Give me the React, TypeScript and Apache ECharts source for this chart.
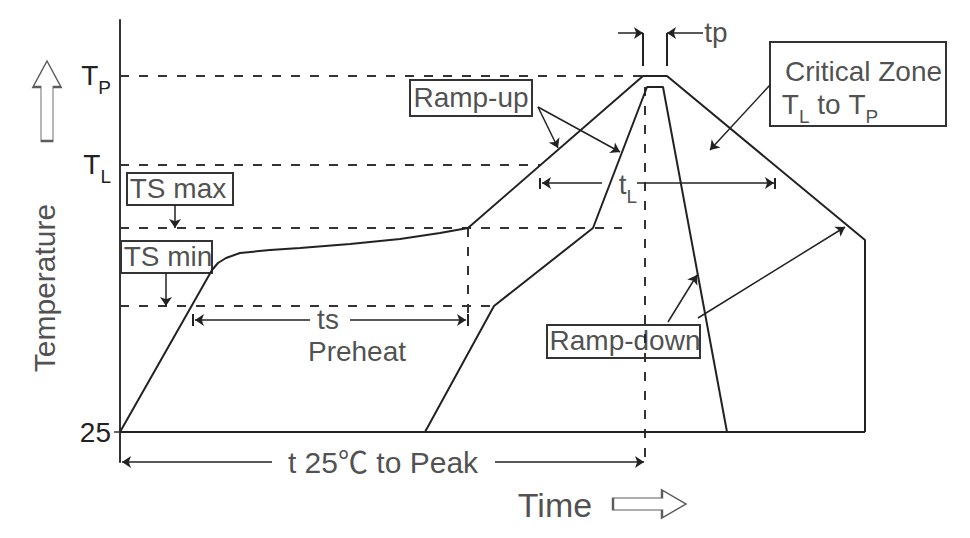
import React, { useEffect, useRef } from 'react';
import * as echarts from 'echarts';

// ---- data (diagram units: x = time, y = temperature, schematic) ----
const outerProfile: number[][] = [
  [0, 25], [46, 106], [49, 109.5], [53, 112], [60, 114.5], [75, 116], [90, 117],
  [115, 119], [140, 121.5], [160, 124.5], [174, 127], [261.5, 203], [273.5, 203],
  [372.5, 121], [372.5, 25],
];
const innerProfile: number[][] = [
  [152.5, 25], [187, 88], [236.5, 127], [263.5, 197.5], [271.5, 197.5], [303.5, 25],
];
const baseline: number[][] = [[0, 25], [372.5, 25]];

const dashedLines: number[][][] = [
  [[0, 203], [261.5, 203]],      // Tp
  [[0, 158.5], [210, 158.5]],    // TL
  [[0, 127], [251, 127]],        // TS max
  [[0, 88], [187, 88]],          // TS min
  [[174, 127], [174, 79.5]],     // end of preheat
  [[262.5, 197.5], [262.5, 10]], // peak time
];

const arrows: number[][][] = [
  [[27.5, 138.5], [27.5, 127]],
  [[23, 104.5], [23, 88]],
  [[209, 187.5], [219, 167]],
  [[209, 187.5], [250, 165]],
  [[325, 198.5], [295, 166]],
  [[274, 80], [288.5, 103.5]],
  [[289, 82], [362.5, 127.5]],
  [[249, 224.5], [261.5, 224.5]],
  [[291.5, 224.5], [273.5, 224.5]],
  [[241, 149.5], [211, 149.5]],
  [[258.5, 149.5], [327, 149.5]],
  [[95, 81], [37.5, 81]],
  [[115, 81], [173, 81]],
  [[76, 10], [1, 10]],
  [[187.5, 10], [262, 10]],
];

const plainLines: number[][][] = [
  [[261.5, 224.5], [261.5, 208]],
  [[273.5, 224.5], [273.5, 208]],
  [[210, 152], [210, 146.5]],
  [[327.5, 152], [327.5, 146.5]],
  [[36.5, 84], [36.5, 78]],
  [[174, 84], [174, 78]],
];

const boxes: number[][][] = [
  [[3.5, 154.5], [56.5, 138.5]],   // TS max
  [[0.5, 120.5], [46, 104.5]],     // TS min
  [[145, 201], [206, 183]],        // Ramp-up
  [[325, 220], [413, 178]],        // Critical zone
  [[213.5, 78.5], [290, 62]],      // Ramp-down
];

const yTickValues = [25, 158.5, 203];
const yTickMain = ['25', 'T', 'T'];
const yTickSub = ['', 'L', 'P'];

const labelTexts = [
  '{a|TS max}', '{a|TS min}', '{a|Ramp-up}', '{a|Critical Zone}',
  '{t|T}{s|L}{a| to }{t|T}{s|P}', '{a|Ramp-down}', '{a|ts}', '{a|Preheat}',
  '{t|t}{s|L}', '{a|tp}', '{w|t 25℃ to Peak}', '{big|Time}', '{v|Temperature}',
];
const labelX = [29, 24, 175.5, 371.75, 355, 252.5, 104, 118.5, 254, 298, 131.5, 217.5, -38];
const labelY = [146.5, 112.5, 192, 205, 188.5, 70.5, 81, 65, 148.5, 224.5, 10, -11.5, 97];
const labelRotate = [0, 0, 0, 0, 0, 0, 0, 0, 0, 0, 0, 0, 90];

const hollowArrowPos: number[][] = [[-36.5, 190.5], [264.75, -11]];

const FONT = '"Liberation Sans", "Noto Sans CJK SC", Arial, Helvetica, sans-serif';
const INK = '#222';

const rich = {
  a: { fontSize: 28, lineHeight: 30, fontFamily: FONT, color: INK, verticalAlign: 'top' },
  w: { fontSize: 30, lineHeight: 32, fontFamily: FONT, color: INK },
  v: { fontSize: 30, lineHeight: 32, fontFamily: FONT, color: INK },
  big: { fontSize: 34, lineHeight: 36, fontFamily: FONT, color: INK },
  n: { fontSize: 28, lineHeight: 30, fontFamily: FONT, color: INK },
  t: { fontSize: 28, lineHeight: 30, fontFamily: FONT, color: INK, verticalAlign: 'top' },
  s: { fontSize: 19, lineHeight: 19, padding: [17, 0, 0, 0], fontFamily: FONT, color: INK, verticalAlign: 'top' },
};

export default function App() {
  const ref = useRef<HTMLDivElement>(null);
  useEffect(() => {
    const chart = echarts.init(ref.current!, null, { renderer: 'svg' });
    const lineStyleBase = { color: INK, width: 2 };
    const series: any[] = [];
    series.push({
      type: 'line', data: outerProfile, symbol: 'none', silent: true, clip: false,
      lineStyle: lineStyleBase, z: 3,
      markArea: {
        silent: true,
        label: { show: false },
        itemStyle: { color: 'rgba(0,0,0,0)', borderColor: '#333', borderWidth: 2 },
        data: boxes.map((b) => [{ coord: b[0] }, { coord: b[1] }]),
      },
    });
    series.push({
      type: 'line', data: innerProfile, symbol: 'none', silent: true, clip: false,
      lineStyle: lineStyleBase, z: 3,
      markLine: {
        silent: true, symbol: ['none', 'none'], label: { show: false },
        lineStyle: { color: INK, width: 2, type: 'solid' },
        data: plainLines.map((l) => [{ coord: l[0] }, { coord: l[1] }]),
      },
    });
    series.push({
      type: 'line', data: baseline, symbol: 'none', silent: true, clip: false,
      lineStyle: lineStyleBase, z: 3,
      markLine: {
        silent: true, symbol: ['none', 'arrow'], symbolSize: 9, label: { show: false },
        lineStyle: { color: INK, width: 1.5, type: 'solid' },
        data: arrows.map((l) => [{ coord: l[0] }, { coord: l[1] }]),
      },
    });
    dashedLines.forEach((d) => {
      series.push({
        type: 'line', data: d, symbol: 'none', silent: true, clip: false,
        lineStyle: { color: '#333', width: 2, type: [9, 10] }, z: 2,
      });
    });
    series.push({
      type: 'scatter', silent: true, clip: false, symbolSize: 1,
      itemStyle: { color: 'rgba(0,0,0,0)' },
      label: { show: true, position: 'inside', color: INK, fontFamily: FONT, rich },
      data: labelTexts.map((t, i) => ({
        value: [labelX[i], labelY[i]],
        label: { formatter: t, rotate: labelRotate[i] },
      })),
      z: 6,
    });
    series.push({
      type: 'scatter', silent: true, clip: false,
      itemStyle: { color: '#fff', borderColor: '#333', borderWidth: 1.5 },
      data: [
        { value: hollowArrowPos[0], symbol: 'path://M14,0 L28,26 L20,26 L20,80 L8,80 L8,26 L0,26 Z', symbolSize: [28, 80] },
        { value: hollowArrowPos[1], symbol: 'path://M0,8 L49,8 L49,0 L73,14 L49,28 L49,20 L0,20 Z', symbolSize: [73, 28] },
      ],
      z: 6,
    });

    chart.setOption({
      animation: false,
      backgroundColor: '#fff',
      grid: { left: 120, right: 10, top: 20, bottom: 76, containLabel: false },
      xAxis: { type: 'value', min: 0, max: 420, show: false },
      yAxis: {
        type: 'value', min: 10, max: 231,
        axisLine: { show: true, lineStyle: { color: '#333', width: 2 } },
        axisTick: { show: true, customValues: [25], length: 6, lineStyle: { color: '#333', width: 1.5 } },
        splitLine: { show: false },
        axisLabel: {
          show: true, customValues: yTickValues, margin: 9,
          formatter: (v: number) => {
            const i = yTickValues.indexOf(v);
            if (i < 0) return '';
            return yTickSub[i] ? `{t|${yTickMain[i]}}{s|${yTickSub[i]}}` : `{n|${yTickMain[i]}}`;
          },
          rich,
        },
      },
      series,
    });
    return () => chart.dispose();
  }, []);
  return (
    <div
      ref={ref}
      style={{ position: 'absolute', left: 0, top: 0, width: 970, height: 538, background: '#fff' }}
    />
  );
}
